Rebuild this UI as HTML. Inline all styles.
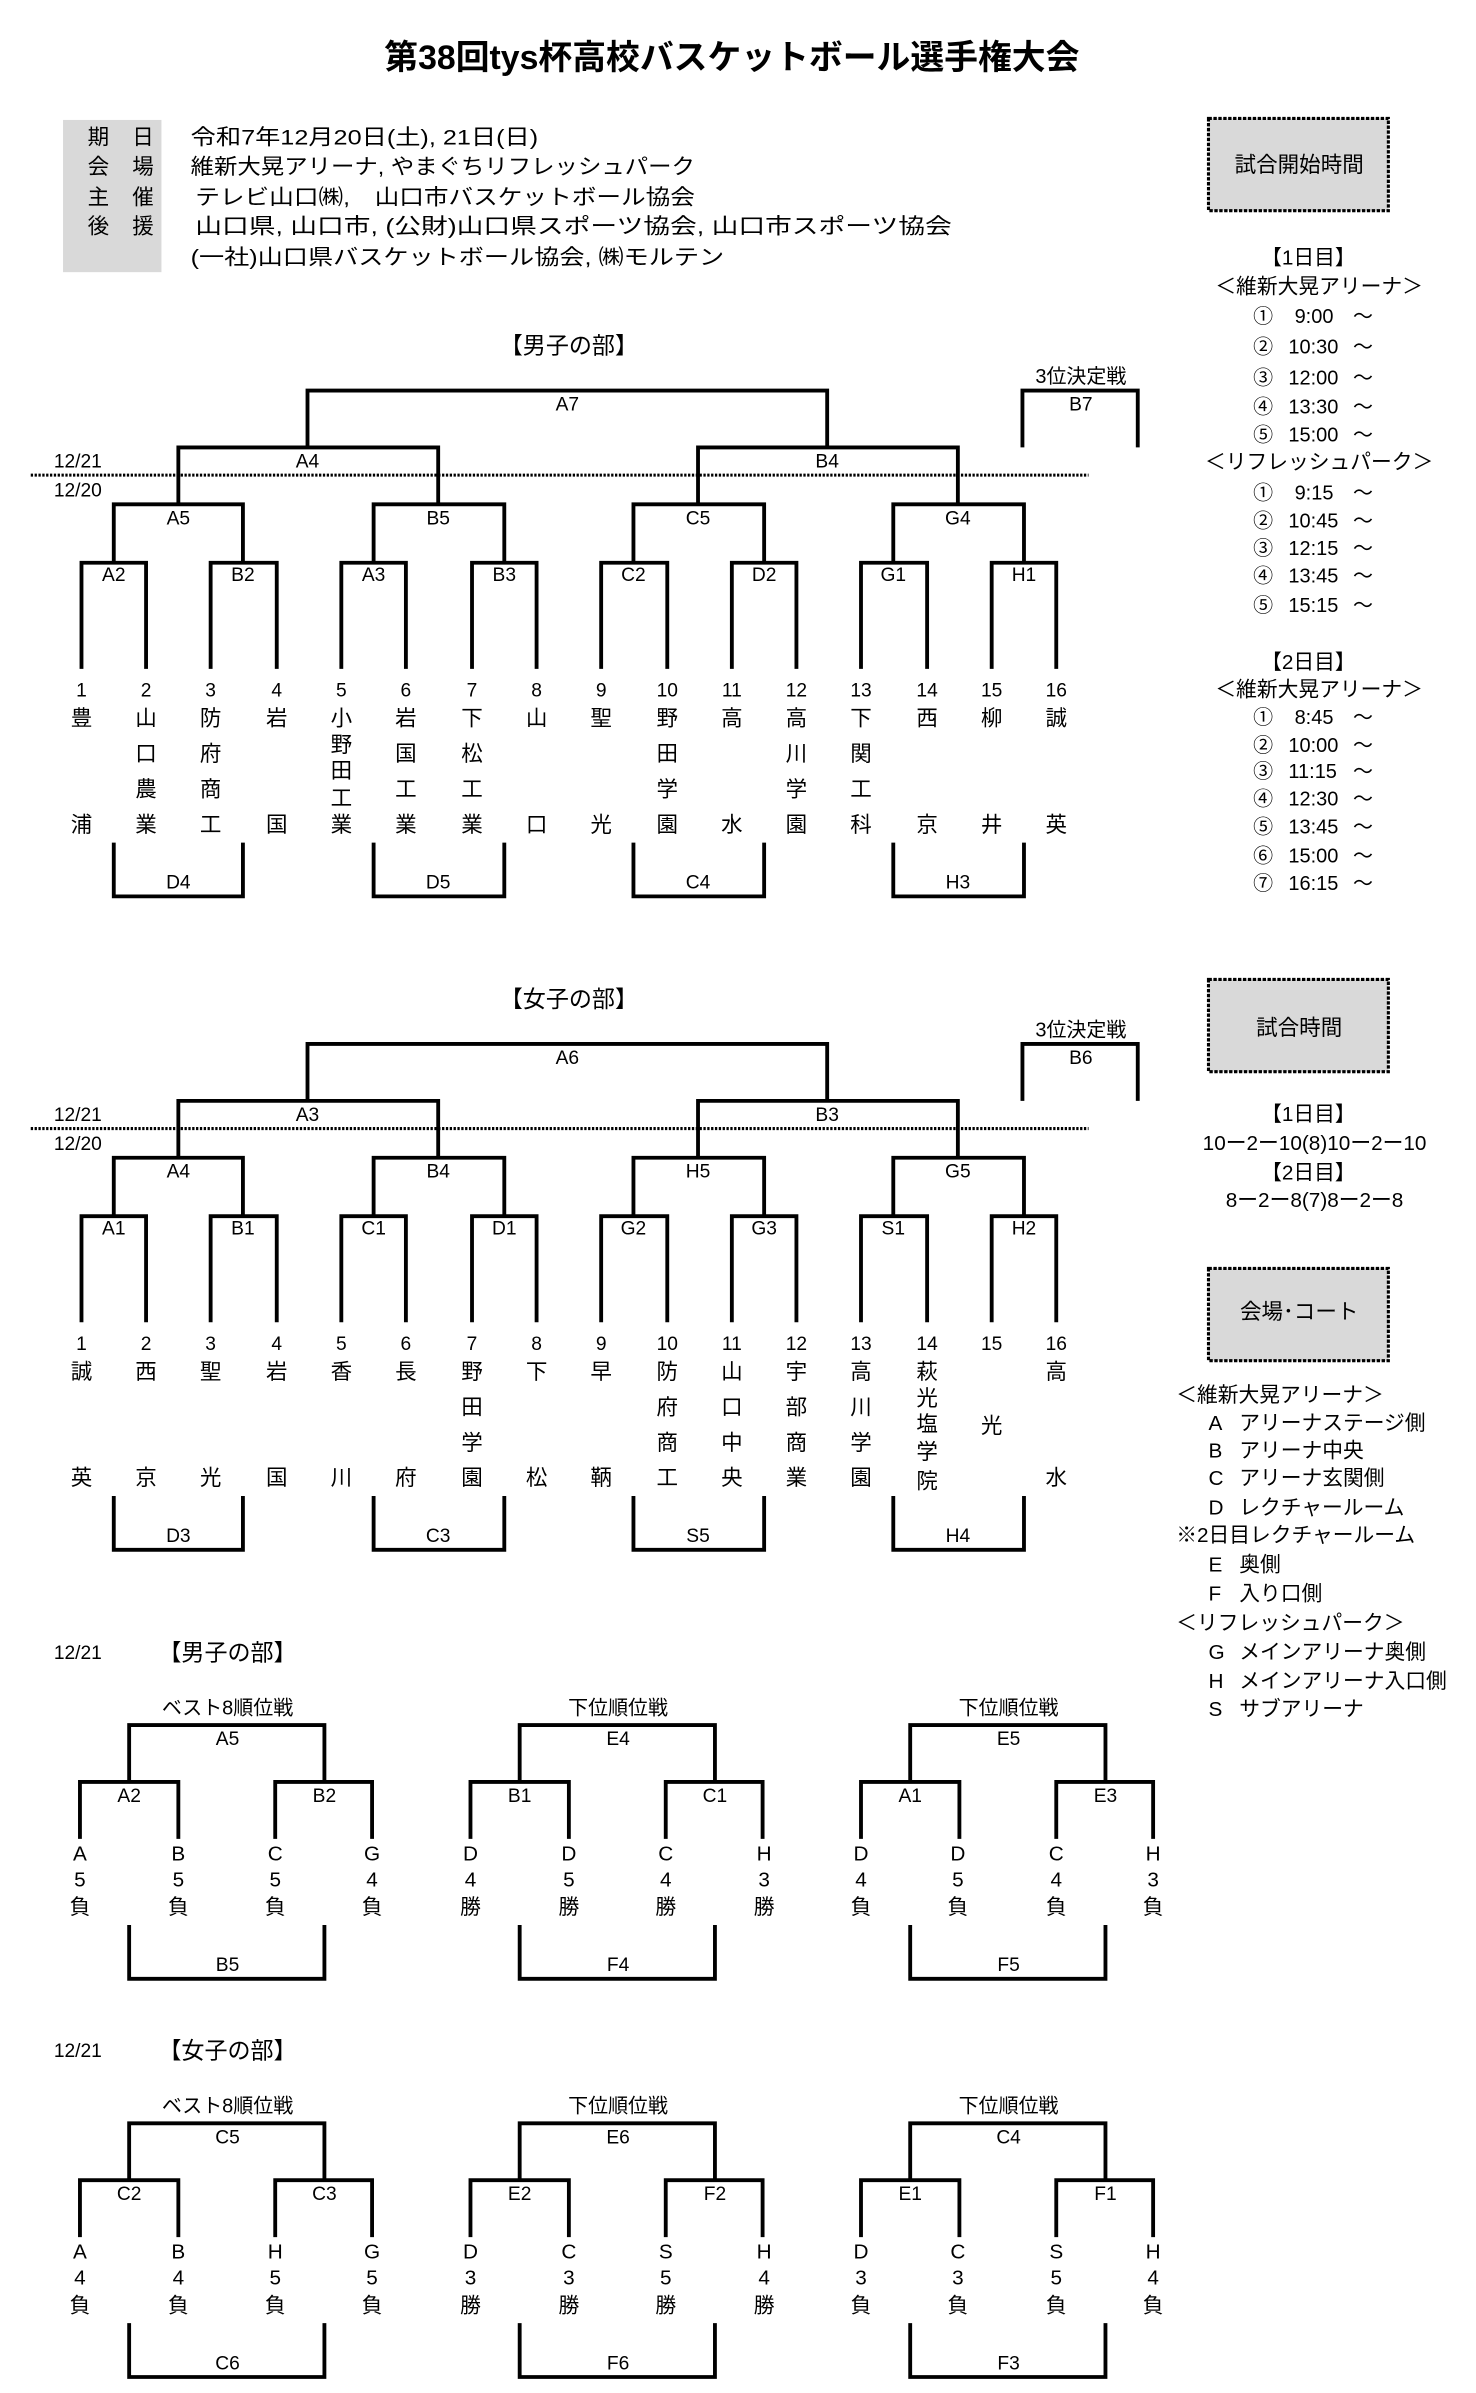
<!DOCTYPE html>
<html><head><meta charset="utf-8">
<style>
html,body{margin:0;padding:0;background:#fff;}
svg{display:block;}
text{font-family:"Liberation Sans","Noto Sans CJK JP",sans-serif;fill:#000;}
.c{text-anchor:middle;}
.l{stroke:#000;stroke-width:2.5;fill:none;}
.n{font-size:12.5px;}
.j{font-size:14px;}
.bx{fill:#d9d9d9;stroke:#000;stroke-width:2;stroke-dasharray:2.2,1;}
</style></head><body>
<svg width="1476" height="2393" viewBox="0 0 960 1556.4" xmlns="http://www.w3.org/2000/svg">
<text x="476" y="45" class="c" font-size="22" font-weight="bold">第38回tys杯高校バスケットボール選手権大会</text>
<rect x="41" y="78" width="64" height="99" fill="#d9d9d9"/>
<g font-size="14">
<text x="57" y="94">期</text><text x="86" y="94">日</text>
<text x="57" y="113">会</text><text x="86" y="113">場</text>
<text x="57" y="133">主</text><text x="86" y="133">催</text>
<text x="57" y="152">後</text><text x="86" y="152">援</text>
<text x="124" y="94" textLength="226" lengthAdjust="spacingAndGlyphs">令和7年12月20日(土), 21日(日)</text>
<text x="124" y="113" textLength="328" lengthAdjust="spacingAndGlyphs">維新大晃アリーナ, やまぐちリフレッシュパーク</text>
<text x="127" y="133" textLength="325" lengthAdjust="spacingAndGlyphs">テレビ山口㈱,　山口市バスケットボール協会</text>
<text x="127" y="152" textLength="492" lengthAdjust="spacingAndGlyphs">山口県, 山口市, (公財)山口県スポーツ協会, 山口市スポーツ協会</text>
<text x="124" y="172" textLength="347" lengthAdjust="spacingAndGlyphs">(一社)山口県バスケットボール協会, ㈱モルテン</text>
</g>

<rect x="786" y="77" width="117" height="60" class="bx"/>
<text x="845" y="112" class="c" font-size="14">試合開始時間</text>
<g font-size="13.5">
<text x="851" y="172" class="c">【1日目】</text>
<text x="858" y="191" class="c">＜維新大晃アリーナ＞</text>
<text x="858" y="305" class="c">＜リフレッシュパーク＞</text>
<text x="851" y="435" class="c">【2日目】</text>
<text x="858" y="453" class="c">＜維新大晃アリーナ＞</text>
</g>
<g font-size="13">
<text x="815" y="210">①</text><text x="842" y="210">9:00</text><text x="880" y="210">～</text>
<text x="815" y="230">②</text><text x="838" y="230">10:30</text><text x="880" y="230">～</text>
<text x="815" y="250">③</text><text x="838" y="250">12:00</text><text x="880" y="250">～</text>
<text x="815" y="269">④</text><text x="838" y="269">13:30</text><text x="880" y="269">～</text>
<text x="815" y="287">⑤</text><text x="838" y="287">15:00</text><text x="880" y="287">～</text>
<text x="815" y="325">①</text><text x="842" y="325">9:15</text><text x="880" y="325">～</text>
<text x="815" y="343">②</text><text x="838" y="343">10:45</text><text x="880" y="343">～</text>
<text x="815" y="361">③</text><text x="838" y="361">12:15</text><text x="880" y="361">～</text>
<text x="815" y="379">④</text><text x="838" y="379">13:45</text><text x="880" y="379">～</text>
<text x="815" y="398">⑤</text><text x="838" y="398">15:15</text><text x="880" y="398">～</text>
<text x="815" y="471">①</text><text x="842" y="471">8:45</text><text x="880" y="471">～</text>
<text x="815" y="489">②</text><text x="838" y="489">10:00</text><text x="880" y="489">～</text>
<text x="815" y="506">③</text><text x="838" y="506">11:15</text><text x="880" y="506">～</text>
<text x="815" y="524">④</text><text x="838" y="524">12:30</text><text x="880" y="524">～</text>
<text x="815" y="542">⑤</text><text x="838" y="542">13:45</text><text x="880" y="542">～</text>
<text x="815" y="561">⑥</text><text x="838" y="561">15:00</text><text x="880" y="561">～</text>
<text x="815" y="579">⑦</text><text x="838" y="579">16:15</text><text x="880" y="579">～</text>
</g>

<rect x="786" y="637" width="117" height="60" class="bx"/>
<text x="845" y="673" class="c" font-size="14">試合時間</text>
<g font-size="13.5">
<text x="851" y="729" class="c">【1日目】</text>
<text x="855" y="748" class="c">10ー2ー10(8)10ー2ー10</text>
<text x="851" y="767" class="c">【2日目】</text>
<text x="855" y="785" class="c">8ー2ー8(7)8ー2ー8</text>
</g>
<rect x="786" y="825" width="117" height="60" class="bx"/>
<text x="845" y="858" class="c" font-size="14">会場･コート</text>
<g font-size="13.5">
<text x="765" y="912">＜維新大晃アリーナ＞</text>
<text x="786" y="930">A</text><text x="806" y="930">アリーナステージ側</text>
<text x="786" y="948">B</text><text x="806" y="948">アリーナ中央</text>
<text x="786" y="966">C</text><text x="806" y="966">アリーナ玄関側</text>
<text x="786" y="985">D</text><text x="806" y="985">レクチャールーム</text>
<text x="765" y="1003">※2日目レクチャールーム</text>
<text x="786" y="1022">E</text><text x="806" y="1022">奥側</text>
<text x="786" y="1041">F</text><text x="806" y="1041">入り口側</text>
<text x="765" y="1060">＜リフレッシュパーク＞</text>
<text x="786" y="1079">G</text><text x="806" y="1079">メインアリーナ奥側</text>
<text x="786" y="1098">H</text><text x="806" y="1098">メインアリーナ入口側</text>
<text x="786" y="1116">S</text><text x="806" y="1116">サブアリーナ</text>
</g>

<text x="370" y="230" class="c" font-size="15">【男子の部】</text>
<text x="370" y="655" class="c" font-size="15">【女子の部】</text>

<g id="br">
<path class="l" d="M53 435V366H95V435 M137 435V366H180V435 M222 435V366H264V435 M307 435V366H349V435 M391 435V366H434V435 M476 435V366H518V435 M560 435V366H603V435 M645 435V366H687V435
M74 366V328H158V366 M243 366V328H328V366 M412 366V328H497V366 M581 366V328H666V366
M116 328V291H285V328 M454 328V291H623V328
M200 291V254H538V291
M74 548V583H158V548 M243 548V583H328V548 M412 548V583H497V548 M581 548V583H666V548
M665 291V254H740V291"/>
<line x1="20" y1="309" x2="708" y2="309" stroke="#000" stroke-width="2" stroke-dasharray="1.5,1"/>
<text x="35" y="304" font-size="12.5">12/21</text>
<text x="35" y="323" font-size="12.5">12/20</text>
<text x="703" y="249" class="c" font-size="13">3位決定戦</text>
<g class="n">
<text x="53" y="453" class="c">1</text><text x="95" y="453" class="c">2</text><text x="137" y="453" class="c">3</text><text x="180" y="453" class="c">4</text>
<text x="222" y="453" class="c">5</text><text x="264" y="453" class="c">6</text><text x="307" y="453" class="c">7</text><text x="349" y="453" class="c">8</text>
<text x="391" y="453" class="c">9</text><text x="434" y="453" class="c">10</text><text x="476" y="453" class="c">11</text><text x="518" y="453" class="c">12</text>
<text x="560" y="453" class="c">13</text><text x="603" y="453" class="c">14</text><text x="645" y="453" class="c">15</text><text x="687" y="453" class="c">16</text>
</g>
</g>
<use href="#br" transform="translate(0,425)"/>

<g class="n">
<text x="74" y="378" class="c">A2</text><text x="158" y="378" class="c">B2</text><text x="243" y="378" class="c">A3</text><text x="328" y="378" class="c">B3</text>
<text x="412" y="378" class="c">C2</text><text x="497" y="378" class="c">D2</text><text x="581" y="378" class="c">G1</text><text x="666" y="378" class="c">H1</text>
<text x="116" y="341" class="c">A5</text><text x="285" y="341" class="c">B5</text><text x="454" y="341" class="c">C5</text><text x="623" y="341" class="c">G4</text>
<text x="200" y="304" class="c">A4</text><text x="538" y="304" class="c">B4</text>
<text x="369" y="267" class="c">A7</text><text x="703" y="267" class="c">B7</text>
<text x="116" y="578" class="c">D4</text><text x="285" y="578" class="c">D5</text><text x="454" y="578" class="c">C4</text><text x="623" y="578" class="c">H3</text>
</g>
<g class="j">
<text x="53" y="472" class="c">豊</text><text x="53" y="541" class="c">浦</text>
<text x="95" y="472" class="c">山</text><text x="95" y="495" class="c">口</text><text x="95" y="518" class="c">農</text><text x="95" y="541" class="c">業</text>
<text x="137" y="472" class="c">防</text><text x="137" y="495" class="c">府</text><text x="137" y="518" class="c">商</text><text x="137" y="541" class="c">工</text>
<text x="180" y="472" class="c">岩</text><text x="180" y="541" class="c">国</text>
<text x="222" y="472" class="c">小</text><text x="222" y="489" class="c">野</text><text x="222" y="506" class="c">田</text><text x="222" y="524" class="c">工</text><text x="222" y="541" class="c">業</text>
<text x="264" y="472" class="c">岩</text><text x="264" y="495" class="c">国</text><text x="264" y="518" class="c">工</text><text x="264" y="541" class="c">業</text>
<text x="307" y="472" class="c">下</text><text x="307" y="495" class="c">松</text><text x="307" y="518" class="c">工</text><text x="307" y="541" class="c">業</text>
<text x="349" y="472" class="c">山</text><text x="349" y="541" class="c">口</text>
<text x="391" y="472" class="c">聖</text><text x="391" y="541" class="c">光</text>
<text x="434" y="472" class="c">野</text><text x="434" y="495" class="c">田</text><text x="434" y="518" class="c">学</text><text x="434" y="541" class="c">園</text>
<text x="476" y="472" class="c">高</text><text x="476" y="541" class="c">水</text>
<text x="518" y="472" class="c">高</text><text x="518" y="495" class="c">川</text><text x="518" y="518" class="c">学</text><text x="518" y="541" class="c">園</text>
<text x="560" y="472" class="c">下</text><text x="560" y="495" class="c">関</text><text x="560" y="518" class="c">工</text><text x="560" y="541" class="c">科</text>
<text x="603" y="472" class="c">西</text><text x="603" y="541" class="c">京</text>
<text x="645" y="472" class="c">柳</text><text x="645" y="541" class="c">井</text>
<text x="687" y="472" class="c">誠</text><text x="687" y="541" class="c">英</text>
</g>

<g class="n">
<text x="74" y="803" class="c">A1</text><text x="158" y="803" class="c">B1</text><text x="243" y="803" class="c">C1</text><text x="328" y="803" class="c">D1</text>
<text x="412" y="803" class="c">G2</text><text x="497" y="803" class="c">G3</text><text x="581" y="803" class="c">S1</text><text x="666" y="803" class="c">H2</text>
<text x="116" y="766" class="c">A4</text><text x="285" y="766" class="c">B4</text><text x="454" y="766" class="c">H5</text><text x="623" y="766" class="c">G5</text>
<text x="200" y="729" class="c">A3</text><text x="538" y="729" class="c">B3</text>
<text x="369" y="692" class="c">A6</text><text x="703" y="692" class="c">B6</text>
<text x="116" y="1003" class="c">D3</text><text x="285" y="1003" class="c">C3</text><text x="454" y="1003" class="c">S5</text><text x="623" y="1003" class="c">H4</text>
</g>
<g class="j">
<text x="53" y="897" class="c">誠</text><text x="53" y="966" class="c">英</text>
<text x="95" y="897" class="c">西</text><text x="95" y="966" class="c">京</text>
<text x="137" y="897" class="c">聖</text><text x="137" y="966" class="c">光</text>
<text x="180" y="897" class="c">岩</text><text x="180" y="966" class="c">国</text>
<text x="222" y="897" class="c">香</text><text x="222" y="966" class="c">川</text>
<text x="264" y="897" class="c">長</text><text x="264" y="966" class="c">府</text>
<text x="307" y="897" class="c">野</text><text x="307" y="920" class="c">田</text><text x="307" y="943" class="c">学</text><text x="307" y="966" class="c">園</text>
<text x="349" y="897" class="c">下</text><text x="349" y="966" class="c">松</text>
<text x="391" y="897" class="c">早</text><text x="391" y="966" class="c">鞆</text>
<text x="434" y="897" class="c">防</text><text x="434" y="920" class="c">府</text><text x="434" y="943" class="c">商</text><text x="434" y="966" class="c">工</text>
<text x="476" y="897" class="c">山</text><text x="476" y="920" class="c">口</text><text x="476" y="943" class="c">中</text><text x="476" y="966" class="c">央</text>
<text x="518" y="897" class="c">宇</text><text x="518" y="920" class="c">部</text><text x="518" y="943" class="c">商</text><text x="518" y="966" class="c">業</text>
<text x="560" y="897" class="c">高</text><text x="560" y="920" class="c">川</text><text x="560" y="943" class="c">学</text><text x="560" y="966" class="c">園</text>
<text x="603" y="897" class="c">萩</text><text x="603" y="914" class="c">光</text><text x="603" y="931" class="c">塩</text><text x="603" y="949" class="c">学</text><text x="603" y="968" class="c">院</text>
<text x="645" y="932" class="c">光</text>
<text x="687" y="897" class="c">高</text><text x="687" y="966" class="c">水</text>
</g>

<g id="lb">
<path class="l" d="M84 1159V1122H211V1159 M52 1196V1159H116V1196 M179 1196V1159H242V1196 M84 1252V1287H211V1252"/>
</g>
<use href="#lb" transform="translate(254,0)"/>
<use href="#lb" transform="translate(508,0)"/>
<use href="#lb" transform="translate(0,259)"/>
<use href="#lb" transform="translate(254,259)"/>
<use href="#lb" transform="translate(508,259)"/>

<text x="35" y="1079" font-size="12.5">12/21</text>
<text x="103" y="1080" font-size="15">【男子の部】</text>
<text x="35" y="1338" font-size="12.5">12/21</text>
<text x="103" y="1339" font-size="15">【女子の部】</text>

<g font-size="13">
<text x="148" y="1115" class="c">ベスト8順位戦</text><text x="402" y="1115" class="c">下位順位戦</text><text x="656" y="1115" class="c">下位順位戦</text>
<text x="148" y="1374" class="c">ベスト8順位戦</text><text x="402" y="1374" class="c">下位順位戦</text><text x="656" y="1374" class="c">下位順位戦</text>
</g>
<g class="n">
<text x="148" y="1135" class="c">A5</text><text x="84" y="1172" class="c">A2</text><text x="211" y="1172" class="c">B2</text><text x="148" y="1282" class="c">B5</text>
<text x="402" y="1135" class="c">E4</text><text x="338" y="1172" class="c">B1</text><text x="465" y="1172" class="c">C1</text><text x="402" y="1282" class="c">F4</text>
<text x="656" y="1135" class="c">E5</text><text x="592" y="1172" class="c">A1</text><text x="719" y="1172" class="c">E3</text><text x="656" y="1282" class="c">F5</text>
<text x="148" y="1394" class="c">C5</text><text x="84" y="1431" class="c">C2</text><text x="211" y="1431" class="c">C3</text><text x="148" y="1541" class="c">C6</text>
<text x="402" y="1394" class="c">E6</text><text x="338" y="1431" class="c">E2</text><text x="465" y="1431" class="c">F2</text><text x="402" y="1541" class="c">F6</text>
<text x="656" y="1394" class="c">C4</text><text x="592" y="1431" class="c">E1</text><text x="719" y="1431" class="c">F1</text><text x="656" y="1541" class="c">F3</text>
</g>
<g font-size="13.5">
<text x="52" y="1210" class="c">A</text><text x="52" y="1227" class="c">5</text><text x="52" y="1245" class="c">負</text>
<text x="116" y="1210" class="c">B</text><text x="116" y="1227" class="c">5</text><text x="116" y="1245" class="c">負</text>
<text x="179" y="1210" class="c">C</text><text x="179" y="1227" class="c">5</text><text x="179" y="1245" class="c">負</text>
<text x="242" y="1210" class="c">G</text><text x="242" y="1227" class="c">4</text><text x="242" y="1245" class="c">負</text>
<text x="306" y="1210" class="c">D</text><text x="306" y="1227" class="c">4</text><text x="306" y="1245" class="c">勝</text>
<text x="370" y="1210" class="c">D</text><text x="370" y="1227" class="c">5</text><text x="370" y="1245" class="c">勝</text>
<text x="433" y="1210" class="c">C</text><text x="433" y="1227" class="c">4</text><text x="433" y="1245" class="c">勝</text>
<text x="497" y="1210" class="c">H</text><text x="497" y="1227" class="c">3</text><text x="497" y="1245" class="c">勝</text>
<text x="560" y="1210" class="c">D</text><text x="560" y="1227" class="c">4</text><text x="560" y="1245" class="c">負</text>
<text x="623" y="1210" class="c">D</text><text x="623" y="1227" class="c">5</text><text x="623" y="1245" class="c">負</text>
<text x="687" y="1210" class="c">C</text><text x="687" y="1227" class="c">4</text><text x="687" y="1245" class="c">負</text>
<text x="750" y="1210" class="c">H</text><text x="750" y="1227" class="c">3</text><text x="750" y="1245" class="c">負</text>
<text x="52" y="1469" class="c">A</text><text x="52" y="1486" class="c">4</text><text x="52" y="1504" class="c">負</text>
<text x="116" y="1469" class="c">B</text><text x="116" y="1486" class="c">4</text><text x="116" y="1504" class="c">負</text>
<text x="179" y="1469" class="c">H</text><text x="179" y="1486" class="c">5</text><text x="179" y="1504" class="c">負</text>
<text x="242" y="1469" class="c">G</text><text x="242" y="1486" class="c">5</text><text x="242" y="1504" class="c">負</text>
<text x="306" y="1469" class="c">D</text><text x="306" y="1486" class="c">3</text><text x="306" y="1504" class="c">勝</text>
<text x="370" y="1469" class="c">C</text><text x="370" y="1486" class="c">3</text><text x="370" y="1504" class="c">勝</text>
<text x="433" y="1469" class="c">S</text><text x="433" y="1486" class="c">5</text><text x="433" y="1504" class="c">勝</text>
<text x="497" y="1469" class="c">H</text><text x="497" y="1486" class="c">4</text><text x="497" y="1504" class="c">勝</text>
<text x="560" y="1469" class="c">D</text><text x="560" y="1486" class="c">3</text><text x="560" y="1504" class="c">負</text>
<text x="623" y="1469" class="c">C</text><text x="623" y="1486" class="c">3</text><text x="623" y="1504" class="c">負</text>
<text x="687" y="1469" class="c">S</text><text x="687" y="1486" class="c">5</text><text x="687" y="1504" class="c">負</text>
<text x="750" y="1469" class="c">H</text><text x="750" y="1486" class="c">4</text><text x="750" y="1504" class="c">負</text>
</g>
</svg>
</body></html>
